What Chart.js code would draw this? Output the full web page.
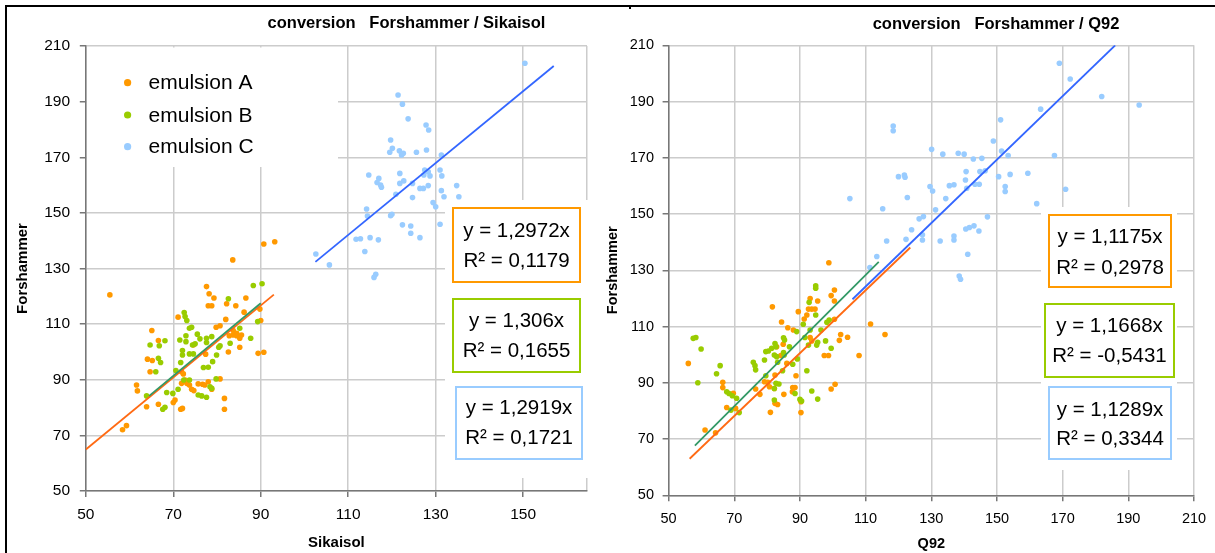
<!DOCTYPE html>
<html>
<head>
<meta charset="utf-8">
<script src="https://cdn.jsdelivr.net/npm/chart.js@4.4.0/dist/chart.umd.min.js"></script>
<style>
html,body{margin:0;padding:0;background:#fff;overflow:hidden;width:1215px;height:553px;}
#wrap{position:relative;width:1215px;height:553px;overflow:hidden;background:#fff;}
canvas{position:absolute;top:0;}
#cl{left:0;}
#cr{left:600px;}
.frameTop{position:absolute;left:5px;top:5px;width:1210px;height:2px;background:#000;}
.frameLeft{position:absolute;left:5px;top:5px;width:2px;height:548px;background:#000;}
.mark{position:absolute;left:629px;top:7px;width:2px;height:2px;background:#000;}
</style>
</head>
<body>
<div id="wrap">
<canvas id="cl" width="813" height="553"></canvas>
<canvas id="cr" width="792" height="553"></canvas>
<div class="frameTop"></div><div class="frameLeft"></div><div class="mark"></div>
</div>
<script>
// ---------- data (x, Forshammer) ----------
const seriesNames = ['emulsion A', 'emulsion B', 'emulsion C'];

const sikaisolA = [[55.5,120.5],[77.6,123.5],[78.2,120.9],[79.3,119.4],[78.0,116.6],[78.8,116.6],[82.2,117.3],[84.3,116.6],[86.6,119.4],[86.2,114.3],[89.8,115.4],[90.0,111.3],[82.0,111.7],[71.1,112.5],[65.1,107.7],[79.8,108.9],[80.7,109.4],[83.7,107.7],[84.5,106.7],[83.7,106.1],[82.8,105.8],[85.6,106.1],[85.2,104.9],[84.5,105.8],[66.6,104.1],[74.6,102.5],[85.2,101.7],[82.6,100.0],[77.4,99.2],[89.4,99.5],[90.7,99.9],[64.1,97.4],[65.2,96.9],[64.7,92.9],[71.9,92.9],[72.3,92.1],[80.7,90.3],[72.7,89.9],[73.7,88.1],[73.1,88.7],[75.7,88.5],[76.7,88.4],[78.0,89.3],[77.2,88.1],[71.9,88.7],[74.2,86.6],[74.7,86.1],[61.6,88.1],[61.8,86.0],[78.8,86.6],[81.7,83.3],[70.4,82.7],[70.0,81.8],[63.9,80.3],[66.6,81.2],[71.7,79.4],[72.1,79.7],[81.7,79.4],[59.3,73.5],[58.4,72.0],[83.6,133.1],[90.7,138.8],[93.2,139.6]];

const sikaisolB = [[88.3,123.9],[90.3,124.5],[82.6,119.1],[72.5,114.2],[72.7,112.7],[73.1,111.3],[73.7,108.5],[74.2,108.9],[75.5,106.4],[72.9,105.8],[71.5,104.3],[72.9,103.7],[75.0,102.9],[74.4,102.5],[76.1,104.7],[77.6,104.9],[77.6,103.4],[78.8,105.5],[80.7,102.2],[80.4,101.7],[83.0,103.1],[85.2,108.5],[87.7,104.9],[89.3,110.9],[64.7,102.5],[66.8,102.2],[68.1,104.0],[66.6,97.7],[67.1,96.2],[66.0,92.9],[72.1,100.5],[72.1,98.9],[71.7,96.2],[73.7,99.3],[74.6,99.3],[79.9,98.9],[79.0,96.5],[76.9,94.4],[78.0,94.5],[70.6,93.3],[72.4,89.9],[73.7,89.9],[79.8,90.3],[78.4,87.5],[78.8,86.9],[68.5,85.4],[69.9,85.1],[71.1,86.6],[75.7,84.5],[76.5,84.2],[77.6,83.7],[63.9,84.2],[67.6,79.4],[68.1,80.1]];

const sikaisolC = [[150.4,203.8],[121.4,192.4],[122.4,189.1],[123.7,183.8],[127.8,181.6],[128.4,179.8],[119.7,176.2],[120.1,173.2],[119.5,171.8],[121.7,172.3],[122.2,170.8],[122.6,171.4],[125.6,171.8],[127.9,172.6],[131.3,170.8],[131.0,165.4],[131.4,163.3],[127.5,165.4],[128.3,164.8],[127.3,163.6],[128.7,163.3],[121.8,164.2],[114.7,163.6],[117.0,162.4],[116.6,160.9],[117.4,160.0],[117.6,159.2],[121.8,160.6],[122.7,161.5],[124.7,160.6],[126.4,158.8],[127.2,158.8],[128.3,159.8],[120.9,156.7],[124.7,155.5],[131.3,158.0],[131.9,155.8],[134.8,159.8],[135.3,155.8],[129.4,153.7],[130.0,152.2],[114.2,151.4],[114.4,148.9],[119.7,149.0],[120.0,149.5],[122.4,145.7],[124.3,145.3],[124.3,142.7],[126.4,141.1],[131.0,145.9],[111.8,140.5],[112.8,140.7],[115.0,141.1],[116.9,140.3],[113.8,136.1],[102.6,135.2],[105.7,131.3],[116.3,127.9],[115.9,126.8]];

const q92A = [[100.5,123.0],[99.5,121.0],[100.5,119.1],[95.4,119.1],[93.1,120.0],[81.6,117.0],[92.6,116.2],[93.6,116.2],[94.6,116.2],[89.5,115.3],[92.1,114.1],[91.3,112.7],[84.4,111.6],[86.3,109.6],[88.0,108.8],[100.5,112.6],[111.5,110.9],[115.9,107.2],[102.4,107.2],[104.5,106.2],[102.0,105.1],[93.1,106.1],[93.6,104.9],[82.9,102.8],[84.9,103.7],[97.4,99.7],[98.7,99.7],[108.0,99.7],[56.0,96.9],[84.2,99.7],[86.0,96.9],[82.4,92.8],[88.8,92.5],[79.2,90.4],[80.2,90.2],[80.7,88.6],[82.2,88.0],[87.8,88.3],[88.5,88.3],[87.7,86.8],[100.7,89.5],[99.5,87.8],[76.5,87.8],[77.8,85.9],[66.5,90.2],[66.5,88.3],[69.7,86.3],[85.1,85.9],[83.2,82.3],[82.4,82.7],[67.7,81.2],[70.4,80.9],[90.3,83.3],[81.0,79.5],[90.3,79.4],[61.1,73.2],[64.3,72.2],[98.8,132.7]];

const q92B = [[94.8,124.5],[94.8,123.6],[92.8,118.6],[94.8,114.1],[91.0,110.8],[98.9,112.3],[98.2,111.5],[93.1,108.8],[96.4,108.8],[89.0,108.2],[91.5,106.1],[95.4,104.4],[95.1,103.4],[97.8,104.9],[99.5,102.3],[92.6,103.4],[85.0,106.0],[85.3,105.2],[82.4,104.0],[82.7,102.8],[81.4,102.3],[80.4,101.3],[79.6,101.1],[85.0,100.8],[85.2,99.9],[82.2,99.9],[82.9,99.3],[86.8,102.8],[89.2,98.5],[83.2,97.3],[87.8,96.6],[79.2,98.1],[75.8,97.3],[76.3,96.1],[76.5,94.6],[84.7,94.3],[92.1,94.3],[65.7,96.1],[64.6,93.2],[57.5,105.8],[58.3,106.1],[59.9,102.0],[58.9,90.0],[79.6,92.5],[82.7,89.8],[83.6,89.6],[82.2,88.0],[88.5,86.2],[93.6,87.1],[67.7,86.8],[68.4,86.2],[69.4,85.4],[70.7,84.5],[90.0,84.1],[90.5,83.5],[95.4,84.2],[82.2,83.9],[69.0,80.3],[71.5,79.4]];

const q92C = [[169.0,203.6],[172.3,198.0],[181.9,191.8],[193.3,188.8],[163.3,187.3],[151.1,183.5],[118.4,181.3],[118.4,179.6],[148.9,176.0],[130.1,173.0],[133.5,171.3],[138.2,171.6],[140.0,171.3],[142.8,169.6],[145.4,169.8],[151.4,172.4],[153.4,170.8],[167.5,170.8],[120.0,163.3],[121.8,163.9],[122.0,163.1],[140.6,165.1],[144.8,165.1],[146.4,165.4],[150.5,163.3],[154.0,164.1],[159.4,164.5],[140.4,162.1],[140.8,159.2],[143.3,160.6],[144.6,160.6],[135.5,160.1],[136.9,160.4],[129.6,159.8],[130.4,158.2],[152.5,159.8],[152.5,158.0],[170.9,158.8],[105.2,155.5],[122.7,155.9],[134.4,155.5],[162.1,153.7],[115.2,151.9],[131.3,151.5],[147.1,149.0],[126.3,148.3],[127.6,149.1],[124.0,144.4],[140.5,144.7],[141.6,145.2],[143.0,145.8],[144.5,144.0],[127.3,142.6],[127.3,140.8],[116.4,140.4],[122.3,141.0],[132.7,140.4],[136.9,142.2],[136.9,140.8],[141.1,135.7],[113.4,134.9],[111.3,131.0],[138.5,128.0],[138.9,126.8]];

// trendline end points, y = a·x through origin
const trendSikaisolA = [[50,64.9],[93,120.6]];
const trendSikaisolB = [[64.5,84.2],[90,117.5]];
const trendSikaisolC = [[102.5,132.4],[157,202.8]];
const trendQ92A = [[56.4,63.0],[123.6,138.1]];
const trendQ92B = [[58,67.7],[114,133.0]];
const trendQ92C = [[106,119.7],[186,210]];

// equation labels
const eqSikaisol = [['y = 1,2972x','R² = 0,1179'],['y = 1,306x','R² = 0,1655'],['y = 1,2919x','R² = 0,1721']];
const eqQ92 = [['y = 1,1175x','R² = 0,2978'],['y = 1,1668x','R² = -0,5431'],['y = 1,1289x','R² = 0,3344']];

// axis ticks
const yTicks = [50,70,90,110,130,150,170,190,210];
const xTicksSikaisol = [50,70,90,110,130,150];
const xTicksQ92 = [50,70,90,110,130,150,170,190,210];
const xMaxSikaisol = 164.6;

// ---------- styling ----------
const FONT = '"Liberation Sans", Arial, Helvetica, sans-serif';
Chart.defaults.font.family = FONT;
Chart.defaults.color = '#000';
const pointColors = ['#FF9900', '#99CC00', '#99CCFF'];
const trendColors = ['#FF6A13', '#339966', '#3366FF'];
const boxColors = ['#FF9900', '#99CC00', '#99CCFF'];
const GRID = '#cccccc';
const AXIS = '#777777';

function toXY(arr){ return arr.map(p => ({x:p[0], y:p[1]})); }

function makeDatasets(pts, trends){
  const ds = [];
  for (let i = 2; i >= 0; i--) {
    ds.push({label: seriesNames[i] + ' trend', data: toXY(trends[i]), showLine: true,
      borderColor: trendColors[i], borderWidth: 1.8, pointRadius: 0, fill: false, order: 3 - i});
  }
  for (let i = 2; i >= 0; i--) {
    ds.push({label: seriesNames[i], data: toXY(pts[i]), showLine: false,
      pointRadius: 2.8, pointBackgroundColor: pointColors[i], backgroundColor: pointColors[i],
      pointBorderWidth: 0, borderWidth: 0, order: 10 - i});
  }
  return ds;
}

function decorPlugin(cfg){
  return {
    id: 'decor',
    beforeDatasetsDraw(chart){
      const ctx = chart.ctx;
      ctx.save();
      ctx.fillStyle = '#fff';
      cfg.white.forEach(r => ctx.fillRect(r[0], r[1], r[2]-r[0], r[3]-r[1]));
      cfg.boxes.forEach((b, i) => {
        ctx.fillStyle = '#fff';
        ctx.fillRect(b.x0, b.y0, b.x1-b.x0, b.y1-b.y0);
        ctx.strokeStyle = boxColors[i];
        ctx.lineWidth = 2;
        ctx.strokeRect(b.x0, b.y0, b.x1-b.x0, b.y1-b.y0);
        ctx.fillStyle = '#000';
        ctx.font = '20.5px ' + FONT;
        ctx.textAlign = 'center';
        ctx.textBaseline = 'middle';
        const cx = (b.x0 + b.x1) / 2;
        ctx.fillText(cfg.eq[i][0], cx, b.ty[0]);
        ctx.fillText(cfg.eq[i][1], cx, b.ty[1]);
      });
      if (cfg.legend) {
        const L = cfg.legend;
        ctx.font = '21px ' + FONT;
        ctx.textAlign = 'left';
        ctx.textBaseline = 'middle';
        L.ys.forEach((y, i) => {
          ctx.fillStyle = pointColors[i];
          ctx.beginPath();
          ctx.arc(L.dotX, y, 3.6, 0, Math.PI*2);
          ctx.fill();
          ctx.fillStyle = '#000';
          ctx.fillText(seriesNames[i], L.textX, y + 1);
        });
      }
      ctx.restore();
    }
  };
}

function makeChart(canvasId, o){
  return new Chart(document.getElementById(canvasId), {
    type: 'scatter',
    data: { datasets: makeDatasets(o.pts, o.trends) },
    plugins: [decorPlugin(o.decor)],
    options: {
      responsive: false,
      animation: false,
      events: [],
      layout: { padding: 0 },
      plugins: {
        legend: { display: false },
        tooltip: { enabled: false },
        title: { display: true, text: o.title, color: '#000',
          font: { size: 16.5, weight: 'bold' }, padding: { top: o.titlePad[0], bottom: o.titlePad[1] } }
      },
      scales: {
        x: {
          type: 'linear', min: 50, max: o.xMax,
          afterBuildTicks: s => { s.ticks = o.xTickVals.map(v => ({value: v})); },
          afterFit: s => { s.height = o.xAxisH; },
          grid: { color: GRID, lineWidth: 1.5, tickLength: 6, drawTicks: true,
            tickColor: c => (c.tick && o.xTicks.indexOf(c.tick.value) < 0) ? 'rgba(0,0,0,0)' : AXIS },
          border: { color: AXIS, width: 1.5 },
          ticks: { padding: o.xTickPad, font: { size: o.tickSize }, color: '#000', maxRotation: 0, autoSkip: false,
            callback: v => o.xTicks.indexOf(v) >= 0 ? String(v) : '' },
          title: { display: true, text: o.xTitle, color: '#000', font: { size: o.axisTitleSize, weight: 'bold' },
            padding: { top: 0, bottom: o.xTitlePad } }
        },
        y: {
          type: 'linear', min: 50, max: 210,
          afterBuildTicks: s => { s.ticks = yTicks.map(v => ({value: v})); },
          afterFit: s => { s.width = o.yAxisW; },
          grid: { color: GRID, lineWidth: 1.5, tickLength: 6, drawTicks: true, tickColor: AXIS },
          border: { color: AXIS, width: 1.5 },
          ticks: { padding: o.yTickPad, font: { size: o.tickSize }, color: '#000', autoSkip: false },
          title: { display: true, text: 'Forshammer', color: '#000', font: { size: o.axisTitleSize, weight: 'bold' },
            padding: { top: o.yTitlePad, bottom: 0 } }
        },
        // empty spacer on the right so the full-width title can sit off-centre like the original
        spacer: {
          type: 'linear', position: 'right', display: true,
          grid: { display: false, drawTicks: false }, border: { display: false },
          ticks: { display: false }, title: { display: false },
          afterFit: s => { s.width = o.spacerW; }
        }
      }
    }
  });
}

makeChart('cl', {
  pts: [sikaisolA, sikaisolB, sikaisolC],
  trends: [trendSikaisolA, trendSikaisolB, trendSikaisolC],
  title: 'conversion   Forshammer / Sikaisol',
  titlePad: [13.1, 13.1],
  spacerW: 226,
  xMax: xMaxSikaisol,
  xTicks: xTicksSikaisol,
  xTickVals: xTicksSikaisol.concat([xMaxSikaisol]),
  xAxisH: 62, xTickPad: 8.5, xTitle: 'Sikaisol', xTitlePad: 1,
  yAxisW: 85.8, yTickPad: 9.8, yTitlePad: 14,
  tickSize: 15.5, axisTitleSize: 15,
  decor: {
    white: [[87, 47.5, 338, 167], [445, 200, 588, 478]],
    boxes: [
      {x0: 453, y0: 208, x1: 580, y1: 282, ty: [231.7, 261.7]},
      {x0: 453, y0: 299, x1: 580, y1: 372, ty: [321.7, 351.7]},
      {x0: 456, y0: 387, x1: 582, y1: 459, ty: [408.3, 438.3]}
    ],
    eq: eqSikaisol,
    legend: { dotX: 127.6, textX: 148.6, ys: [82.7, 115, 146.7] }
  }
});

makeChart('cr', {
  pts: [q92A, q92B, q92C],
  trends: [trendQ92A, trendQ92B, trendQ92C],
  title: 'conversion   Forshammer / Q92',
  titlePad: [14.1, 11.4],
  spacerW: 198,
  xMax: 210,
  xTicks: xTicksQ92,
  xTickVals: xTicksQ92,
  xAxisH: 57.7, xTickPad: 9, xTitle: 'Q92', xTitlePad: 0,
  yAxisW: 68.6, yTickPad: 8.6, yTitlePad: 4,
  tickSize: 14.5, axisTitleSize: 14.5,
  decor: {
    white: [[441, 207, 577, 470]],
    boxes: [
      {x0: 449, y0: 215, x1: 571, y1: 287, ty: [237.3, 268.3]},
      {x0: 445, y0: 304, x1: 574, y1: 377, ty: [326.7, 356.7]},
      {x0: 449, y0: 387, x1: 571, y1: 459, ty: [410, 439]}
    ],
    eq: eqQ92,
    legend: null
  }
});
</script>
</body>
</html>
